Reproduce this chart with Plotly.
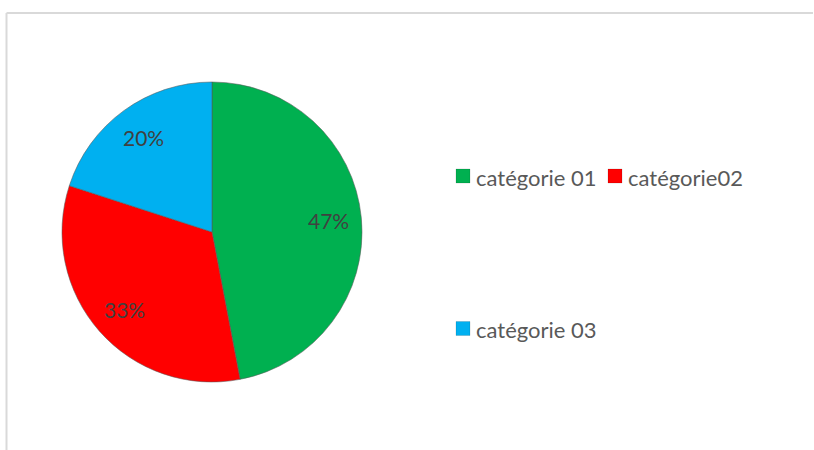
import math
import plotly.graph_objects as go

categories = ["catégorie 01", "catégorie02", "catégorie 03"]
values = [47, 33, 20]
colors = ["#00B050", "#FF0000", "#00B0F0"]

W, H = 814, 450
CX, CY, R = 212, 232, 150  # pie centre / radius in pixels (layout)

def px(x):
    return x / W

def py(y):
    return 1 - y / H

fig = go.Figure()
fig.add_trace(go.Pie(
    labels=categories,
    values=values,
    sort=False,
    direction="clockwise",
    rotation=0,
    marker=dict(colors=colors, line=dict(color="rgba(90,90,90,0.55)", width=1)),
    textinfo="none",
    domain=dict(x=[px(CX - R), px(CX + R)], y=[py(CY + R), py(CY - R)]),
    showlegend=False,
    hoverinfo="label+percent",
))

annotations = []
# percentage labels placed at 0.78 of the radius on each slice's mid-angle
total = sum(values)
cum = 0
for v in values:
    mid = (cum + v / 2) / total * 2 * math.pi
    cum += v
    lx = CX + 0.78 * R * math.sin(mid)
    ly = CY - 0.78 * R * math.cos(mid)
    annotations.append(dict(text=f"{round(100 * v / total)}%", xref="paper", yref="paper",
                            x=px(lx), y=py(ly), xanchor="center", yanchor="middle",
                            showarrow=False,
                            font=dict(family="Lato, Open Sans, sans-serif", size=21, color="#404040")))

# legend built as annotations + colour squares
legend_pos = [(456, 176), (608, 176), (456, 328.5)]
shapes = []
for (lx, ly), name, col in zip(legend_pos, categories, colors):
    shapes.append(dict(type="rect", xref="paper", yref="paper",
                       x0=px(lx), x1=px(lx + 14), y0=py(ly + 7), y1=py(ly - 7),
                       fillcolor=col, line=dict(color="rgba(0,0,0,0.25)", width=0.5)))
    annotations.append(dict(text=name, xref="paper", yref="paper",
                            x=px(lx + 18), y=py(ly + 1), xanchor="left", yanchor="middle",
                            showarrow=False,
                            font=dict(family="Lato, Open Sans, sans-serif", size=22, color="#595959")))

# chart area border (top and left visible)
shapes.append(dict(type="line", xref="paper", yref="paper", x0=px(6.5), x1=px(813),
                   y0=py(13), y1=py(13), line=dict(color="#D9D9D9", width=2)))
shapes.append(dict(type="line", xref="paper", yref="paper", x0=px(6.5), x1=px(6.5),
                   y0=py(13), y1=0, line=dict(color="#D9D9D9", width=2)))

fig.update_layout(
    width=W, height=H,
    margin=dict(l=0, r=0, t=0, b=0),
    paper_bgcolor="white",
    plot_bgcolor="white",
    shapes=shapes,
    annotations=annotations,
)

fig.write_html("out.html", config={"displayModeBar": False},
               post_script="document.body.style.margin='0';document.body.style.overflow='hidden';")
